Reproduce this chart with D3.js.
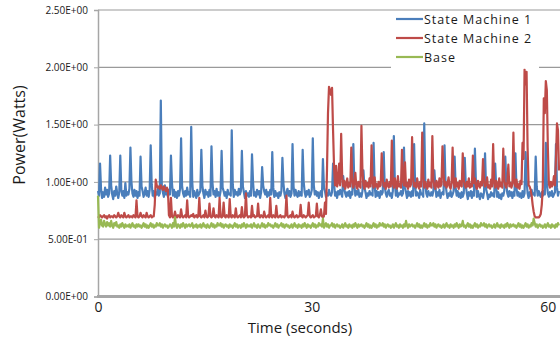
<!DOCTYPE html>
<html>
<head>
<meta charset="utf-8">
<script src="https://cdn.jsdelivr.net/npm/d3@7"></script>
<style>
  body { margin: 0; background: #fff; }
  svg { display: block; font-family: "Open Sans", sans-serif; }
</style>
</head>
<body>
<svg id="chart" width="560" height="341"></svg>
<script>
'use strict'

/****** DATA ******/

const SERIES_NAMES = ['State Machine 1', 'State Machine 2', 'Base']
const SERIES_COLORS = ['#4a7ebb', '#be4b48', '#98b954']

const sm1 = [
  0.92, 0.88, 1.16, 0.94, 0.86, 0.91, 0.87, 0.95, 0.89, 0.93,
  0.87, 0.90, 1.23, 0.97, 0.89, 0.85, 0.92, 0.88, 0.96, 0.90,
  0.86, 0.91, 1.23, 0.93, 0.88, 0.92, 0.86, 0.99, 0.88, 0.91,
  0.89, 0.94, 1.30, 1.00, 0.90, 0.87, 0.93, 0.88, 0.92, 0.86,
  0.91, 0.88, 1.22, 0.96, 0.92, 0.87, 0.90, 0.95, 0.88, 0.92,
  0.87, 0.93, 1.32, 0.98, 0.88, 0.92, 0.86, 0.91, 0.89, 0.94,
  0.88, 0.90, 1.71, 0.95, 0.91, 0.87, 0.97, 0.89, 0.92, 0.87,
  0.93, 0.89, 1.23, 0.99, 0.88, 0.93, 0.87, 0.91, 0.86, 0.92,
  0.88, 0.94, 1.38, 0.96, 0.90, 0.87, 0.92, 0.88, 0.95, 0.89,
  0.91, 0.87, 1.48, 1.00, 0.87, 0.92, 0.89, 0.86, 0.93, 0.88,
  0.90, 0.92, 1.28, 0.97, 0.90, 0.86, 0.93, 0.89, 0.91, 0.87,
  0.93, 0.88, 1.31, 0.99, 0.89, 0.92, 0.87, 0.94, 0.88, 0.91,
  0.87, 0.92, 1.27, 0.95, 0.92, 0.88, 0.91, 0.86, 0.93, 0.89,
  0.90, 0.88, 1.45, 0.98, 0.87, 0.93, 0.89, 0.91, 0.88, 0.94,
  0.89, 0.92, 1.27, 0.96, 0.91, 0.86, 0.92, 0.88, 0.90, 0.87,
  0.92, 0.88, 1.24, 1.00, 0.88, 0.91, 0.87, 0.93, 0.89, 0.92,
  0.86, 0.91, 1.13, 0.97, 0.92, 0.89, 0.93, 0.87, 0.91, 0.88,
  0.93, 0.89, 1.26, 0.95, 0.87, 0.92, 0.88, 0.90, 0.86, 0.91,
  0.88, 0.92, 1.21, 0.99, 0.90, 0.86, 0.91, 0.94, 0.88, 0.92,
  0.87, 0.90, 1.33, 0.96, 0.88, 0.93, 0.89, 0.87, 0.92, 0.88,
  0.91, 0.88, 1.28, 1.00, 0.91, 0.87, 0.92, 0.89, 0.93, 0.87,
  0.89, 0.93, 1.38, 0.97, 0.89, 0.92, 0.88, 0.91, 0.86, 0.90,
  0.92, 0.87, 1.20, 0.95, 0.92, 0.87, 0.90, 0.88, 0.93, 0.89,
  0.88, 0.91, 1.16, 0.98, 0.88, 0.91, 0.86, 0.92, 0.89, 0.93,
  0.90, 0.87, 1.05, 0.94, 0.90, 0.87, 0.91, 0.88, 0.92, 0.86,
  0.91, 0.89, 1.33, 0.97, 0.88, 0.92, 0.89, 0.93, 0.87, 0.90,
  0.87, 0.92, 1.10, 0.95, 0.91, 0.86, 0.90, 0.88, 0.92, 0.89,
  0.90, 0.88, 1.34, 0.98, 0.87, 0.92, 0.88, 0.91, 0.86, 0.92,
  0.89, 0.91, 1.26, 0.96, 0.90, 0.87, 0.91, 0.93, 0.88, 0.90,
  0.86, 0.92, 1.40, 0.99, 0.88, 0.93, 0.87, 0.90, 0.89, 0.92,
  0.88, 0.90, 1.30, 0.95, 0.91, 0.86, 0.92, 0.88, 0.91, 0.87,
  0.92, 0.88, 1.33, 0.97, 0.88, 0.91, 0.89, 0.86, 0.93, 0.89,
  0.90, 0.87, 1.51, 1.00, 0.90, 0.87, 0.92, 0.89, 0.88, 0.91,
  0.88, 0.92, 1.10, 0.96, 0.87, 0.91, 0.88, 0.93, 0.86, 0.90,
  0.91, 0.89, 1.32, 0.98, 0.91, 0.86, 0.90, 0.88, 0.92, 0.87,
  0.89, 0.92, 1.22, 0.95, 0.88, 0.92, 0.87, 0.90, 0.86, 0.91,
  0.87, 0.90, 1.21, 0.97, 0.90, 0.85, 0.91, 0.88, 0.92, 0.86,
  0.91, 0.88, 1.29, 0.99, 0.87, 0.92, 0.88, 0.85, 0.90, 0.89,
  0.86, 0.91, 1.25, 0.94, 0.90, 0.85, 0.89, 0.87, 0.91, 0.88,
  0.90, 0.87, 1.16, 0.96, 0.87, 0.91, 0.86, 0.89, 0.85, 0.90,
  0.88, 0.92, 1.22, 0.98, 0.90, 0.87, 0.92, 0.88, 0.91, 0.86,
  0.91, 0.88, 1.25, 0.95, 0.88, 0.91, 0.87, 0.90, 0.86, 0.92,
  0.87, 0.90, 1.26, 1.02, 0.90, 0.86, 0.91, 0.88, 0.93, 0.89,
  0.90, 0.88, 1.22, 0.96, 0.88, 0.92, 0.89, 0.87, 0.91, 0.88,
  0.92, 0.89, 1.34, 0.98, 0.90, 0.87, 0.91, 0.88, 0.92, 0.87,
  0.89, 0.91, 1.33, 0.95, 0.88, 0.92
]

const sm2 = [
  0.70, 0.69, 0.71, 0.70, 0.69, 0.70, 0.71, 0.69, 0.70, 0.68,
  0.70, 0.71, 0.69, 0.70, 0.70, 0.69, 0.71, 0.70, 0.69, 0.70,
  0.73, 0.70, 0.69, 0.71, 0.70, 0.69, 0.73, 0.70, 0.69, 0.70,
  0.71, 0.69, 0.70, 0.70, 0.69, 0.71, 0.70, 0.69, 0.84, 0.70,
  0.69, 0.70, 0.73, 0.70, 0.69, 0.71, 0.70, 0.69, 0.73, 0.70,
  0.69, 0.70, 0.71, 0.69, 0.70, 0.70, 0.80, 1.02, 0.97, 0.95,
  0.96, 0.94, 0.97, 0.95, 0.93, 0.96, 0.94, 0.92, 0.95, 0.93,
  0.71, 0.69, 0.86, 0.70, 0.69, 0.70, 0.74, 0.70, 0.69, 0.71,
  0.70, 0.69, 0.76, 0.70, 0.69, 0.70, 0.71, 0.69, 0.84, 0.70,
  0.69, 0.70, 0.71, 0.70, 0.72, 0.69, 0.70, 0.71, 0.69, 0.70,
  0.86, 0.70, 0.69, 0.70, 0.71, 0.69, 0.75, 0.70, 0.69, 0.70,
  0.81, 0.70, 0.69, 0.70, 0.77, 0.70, 0.69, 0.71, 0.70, 0.69,
  0.86, 0.70, 0.69, 0.70, 0.82, 0.70, 0.69, 0.71, 0.70, 0.69,
  0.85, 0.70, 0.69, 0.71, 0.70, 0.69, 0.77, 0.70, 0.69, 0.70,
  0.71, 0.69, 0.78, 0.70, 0.69, 0.70, 0.90, 0.71, 0.69, 0.70,
  0.70, 0.69, 0.79, 0.70, 0.71, 0.69, 0.70, 0.70, 0.81, 0.70,
  0.69, 0.71, 0.70, 0.69, 0.74, 0.70, 0.69, 0.70, 0.71, 0.69,
  0.86, 0.70, 0.69, 0.71, 0.70, 0.69, 0.79, 0.70, 0.69, 0.70,
  0.71, 0.69, 0.70, 0.70, 0.69, 0.71, 0.88, 0.70, 0.69, 0.70,
  0.71, 0.69, 0.74, 0.70, 0.69, 0.70, 0.71, 0.69, 0.70, 0.70,
  0.80, 0.70, 0.69, 0.71, 0.70, 0.69, 0.70, 0.71, 0.82, 0.70,
  0.69, 0.70, 0.71, 0.69, 0.70, 0.70, 0.81, 0.70, 0.69, 0.71,
  0.76, 0.70, 0.69, 0.70, 0.82, 0.72, 1.10, 1.60, 1.83, 1.80,
  1.76, 1.82, 1.45, 1.12, 0.97, 1.14, 0.96, 1.00, 1.16, 0.97,
  1.42, 1.05, 0.96, 1.01, 0.94, 0.98, 1.03, 0.95, 0.99, 0.96,
  1.30, 1.02, 0.95, 0.99, 1.08, 0.96, 0.94, 1.00, 0.97, 0.95,
  1.49, 1.10, 0.97, 0.94, 1.01, 0.96, 0.99, 0.95, 1.03, 0.96,
  1.32, 1.00, 0.95, 1.04, 0.96, 0.98, 0.94, 1.00, 0.96, 0.97,
  1.25, 1.03, 0.96, 0.99, 0.94, 1.02, 0.97, 0.95, 1.00, 0.96,
  1.36, 0.99, 0.95, 1.03, 0.97, 0.94, 1.05, 0.96, 0.98, 0.95,
  1.28, 1.01, 0.97, 1.17, 0.96, 0.99, 0.94, 1.02, 0.96, 0.98,
  1.39, 1.04, 0.96, 0.99, 0.95, 1.03, 0.97, 0.94, 1.00, 0.96,
  1.43, 1.06, 0.95, 1.00, 0.97, 0.94, 1.02, 0.96, 0.99, 0.95,
  1.40, 1.02, 0.96, 0.94, 1.01, 0.97, 0.95, 1.03, 0.96, 0.98,
  1.31, 1.07, 0.97, 1.00, 0.95, 0.98, 1.04, 0.96, 0.94, 0.99,
  1.30, 1.00, 0.95, 1.03, 0.96, 0.99, 0.94, 1.01, 0.97, 0.96,
  1.25, 1.02, 0.97, 0.95, 1.00, 0.96, 1.03, 0.95, 0.98, 0.96,
  1.23, 0.99, 1.03, 0.96, 0.94, 1.01, 0.97, 0.95, 1.00, 0.97,
  1.20, 1.01, 0.96, 0.98, 1.04, 0.95, 0.97, 0.94, 1.02, 0.96,
  1.33, 1.00, 0.95, 1.01, 0.97, 0.94, 1.03, 0.96, 0.99, 0.95,
  1.29, 1.02, 0.97, 0.95, 1.00, 1.15, 0.96, 0.99, 0.95, 0.98,
  1.43, 1.00, 0.96, 1.02, 0.95, 0.98, 0.94, 1.01, 0.98, 1.34,
  1.20, 1.98, 1.85, 1.96, 1.30, 0.97, 0.96, 0.93, 0.88, 0.80,
  0.74, 0.70, 0.69, 0.69, 0.69, 0.69, 0.70, 0.72, 0.80, 0.95,
  1.73, 1.60, 1.88, 1.80, 1.30, 0.98, 0.95, 1.00, 0.96, 0.98,
  1.05, 0.97, 1.20, 1.51, 1.45, 1.10
]

const base = [
  0.88, 0.60, 0.64, 0.67, 0.62, 0.61, 0.66, 0.63, 0.61, 0.65,
  0.62, 0.64, 0.61, 0.66, 0.62, 0.60, 0.64, 0.62, 0.65, 0.61,
  0.62, 0.60, 0.63, 0.61, 0.64, 0.62, 0.60, 0.63, 0.61, 0.62,
  0.61, 0.63, 0.60, 0.62, 0.64, 0.61, 0.62, 0.60, 0.63, 0.61,
  0.63, 0.61, 0.62, 0.60, 0.62, 0.64, 0.61, 0.63, 0.60, 0.62,
  0.60, 0.62, 0.64, 0.61, 0.63, 0.60, 0.62, 0.61, 0.64, 0.62,
  0.62, 0.64, 0.61, 0.63, 0.60, 0.62, 0.63, 0.61, 0.62, 0.60,
  0.61, 0.63, 0.62, 0.60, 0.64, 0.61, 0.69, 0.62, 0.60, 0.63,
  0.62, 0.60, 0.63, 0.61, 0.64, 0.62, 0.60, 0.63, 0.61, 0.62,
  0.63, 0.61, 0.62, 0.64, 0.60, 0.62, 0.61, 0.63, 0.60, 0.62,
  0.61, 0.63, 0.60, 0.62, 0.64, 0.61, 0.62, 0.60, 0.63, 0.61,
  0.60, 0.62, 0.64, 0.61, 0.63, 0.60, 0.62, 0.61, 0.64, 0.62,
  0.62, 0.64, 0.61, 0.63, 0.60, 0.62, 0.63, 0.61, 0.62, 0.60,
  0.63, 0.61, 0.62, 0.60, 0.62, 0.64, 0.61, 0.63, 0.60, 0.62,
  0.62, 0.60, 0.63, 0.61, 0.64, 0.62, 0.60, 0.63, 0.61, 0.62,
  0.61, 0.63, 0.60, 0.62, 0.64, 0.61, 0.62, 0.60, 0.63, 0.61,
  0.60, 0.62, 0.64, 0.61, 0.63, 0.60, 0.62, 0.61, 0.64, 0.62,
  0.63, 0.61, 0.62, 0.60, 0.62, 0.64, 0.61, 0.63, 0.60, 0.62,
  0.62, 0.64, 0.61, 0.63, 0.60, 0.62, 0.63, 0.61, 0.62, 0.60,
  0.61, 0.63, 0.60, 0.62, 0.64, 0.61, 0.62, 0.60, 0.63, 0.61,
  0.62, 0.60, 0.63, 0.61, 0.64, 0.62, 0.60, 0.63, 0.61, 0.62,
  0.60, 0.62, 0.64, 0.61, 0.63, 0.60, 0.62, 0.61, 0.64, 0.62,
  0.63, 0.61, 0.68, 0.60, 0.62, 0.64, 0.61, 0.63, 0.60, 0.62,
  0.62, 0.64, 0.61, 0.63, 0.60, 0.62, 0.63, 0.61, 0.62, 0.60,
  0.61, 0.63, 0.60, 0.62, 0.64, 0.61, 0.62, 0.60, 0.63, 0.61,
  0.62, 0.60, 0.63, 0.61, 0.64, 0.62, 0.60, 0.63, 0.61, 0.62,
  0.63, 0.61, 0.62, 0.60, 0.62, 0.64, 0.61, 0.63, 0.60, 0.62,
  0.60, 0.62, 0.64, 0.61, 0.63, 0.60, 0.62, 0.61, 0.64, 0.62,
  0.62, 0.64, 0.61, 0.63, 0.60, 0.62, 0.63, 0.61, 0.62, 0.60,
  0.61, 0.63, 0.60, 0.62, 0.64, 0.61, 0.62, 0.60, 0.63, 0.61,
  0.62, 0.60, 0.63, 0.61, 0.66, 0.62, 0.60, 0.63, 0.61, 0.62,
  0.63, 0.61, 0.62, 0.60, 0.62, 0.64, 0.61, 0.63, 0.60, 0.62,
  0.60, 0.62, 0.64, 0.61, 0.63, 0.60, 0.62, 0.61, 0.64, 0.62,
  0.62, 0.64, 0.61, 0.63, 0.60, 0.62, 0.63, 0.61, 0.62, 0.60,
  0.61, 0.63, 0.60, 0.62, 0.64, 0.61, 0.62, 0.60, 0.63, 0.61,
  0.62, 0.60, 0.63, 0.61, 0.64, 0.62, 0.60, 0.63, 0.61, 0.62,
  0.66, 0.61, 0.62, 0.60, 0.62, 0.64, 0.61, 0.63, 0.60, 0.62,
  0.60, 0.62, 0.64, 0.61, 0.63, 0.60, 0.62, 0.61, 0.64, 0.62,
  0.62, 0.64, 0.61, 0.63, 0.60, 0.62, 0.63, 0.61, 0.62, 0.60,
  0.61, 0.63, 0.60, 0.62, 0.64, 0.61, 0.62, 0.60, 0.63, 0.61,
  0.62, 0.60, 0.63, 0.61, 0.64, 0.62, 0.60, 0.63, 0.61, 0.62,
  0.63, 0.61, 0.62, 0.60, 0.62, 0.64, 0.61, 0.63, 0.60, 0.62,
  0.60, 0.62, 0.64, 0.61, 0.63, 0.60, 0.62, 0.61, 0.64, 0.62,
  0.68, 0.64, 0.61, 0.63, 0.60, 0.62, 0.63, 0.61, 0.62, 0.60,
  0.61, 0.63, 0.60, 0.62, 0.64, 0.61, 0.62, 0.60, 0.63, 0.61,
  0.62, 0.60, 0.63, 0.61, 0.64, 0.62
]

// axis ticks
const Y_TICKS = [0, 0.5, 1, 1.5, 2, 2.5]
const Y_TICK_LABELS = ['0.00E+00', '5.00E-01', '1.00E+00', '1.50E+00', '2.00E+00', '2.50E+00']
const X_TICK_IDX = [0, 211, 444] // sample index where each label sits
const X_TICK_LABELS = ['0', '30', '60']


/****** CHART ******/

const svg = d3.select('#chart')
const N = sm1.length

const x = d3.scaleLinear().domain([0, N - 1]).range([98, 559])
const y = d3.scaleLinear().domain([0, 2.5]).range([296.5, 10])

// gridlines
svg.append('g')
  .selectAll('line')
  .data(Y_TICKS.filter(d => d > 0))
  .join('line')
    .attr('x1', x(0)).attr('x2', 560)
    .attr('y1', d => y(d)).attr('y2', d => y(d))
    .attr('stroke', '#9a9a9a')
    .attr('stroke-width', 1.2)

// y axis
const yAxis = svg.append('g')
  .attr('transform', `translate(${x(0)},0)`)
  .call(d3.axisLeft(y).tickValues(Y_TICKS).tickSize(4).tickPadding(6)
    .tickFormat((d, i) => Y_TICK_LABELS[i]))
yAxis.select('.domain').attr('stroke', '#a6a6a6').attr('stroke-width', 1.5)
yAxis.selectAll('.tick line').attr('stroke', '#a6a6a6')
yAxis.selectAll('.tick text')
  .attr('fill', '#1a1a1a')
  .style('font-size', '10px')
  .style('font-family', '"Open Sans", sans-serif')

// series lines (blue first, red over it, green on top)
const line = d3.line()
  .x((d, i) => x(i))
  .y(d => y(d))

svg.append('g')
  .selectAll('path')
  .data([sm1, sm2, base])
  .join('path')
    .attr('fill', 'none')
    .attr('stroke', (d, i) => SERIES_COLORS[i])
    .attr('stroke-width', 2.2)
    .attr('stroke-linejoin', 'round')
    .attr('d', line)

// x axis: thick gray baseline
const xAxis = svg.append('g')
  .attr('transform', `translate(0,${y(0)})`)
  .call(d3.axisBottom(x).tickValues(X_TICK_IDX).tickSize(0).tickPadding(6)
    .tickFormat((d, i) => X_TICK_LABELS[i]))
xAxis.select('.domain').attr('stroke', '#a6a6a6').attr('stroke-width', 3)
  .attr('d', `M${x(0) - 1},0H560`)
xAxis.selectAll('.tick text')
  .attr('fill', '#1a1a1a')
  .style('font-size', '14px')
  .style('font-family', '"Open Sans", sans-serif')

// axis titles
svg.append('text')
  .attr('transform', 'translate(25,135) rotate(-90)')
  .attr('text-anchor', 'middle')
  .attr('fill', '#1a1a1a')
  .style('font-size', '16px')
  .text('Power(Watts)')

svg.append('text')
  .attr('x', 300).attr('y', 333)
  .attr('text-anchor', 'middle')
  .attr('fill', '#1a1a1a')
  .style('font-size', '15px')
  .text('Time (seconds)')

// legend
const legend = svg.append('g')
legend.append('rect')
  .attr('x', 391).attr('y', 11)
  .attr('width', 148).attr('height', 57.5)
  .attr('fill', '#fff')

const items = legend.selectAll('g')
  .data(SERIES_NAMES)
  .join('g')
    .attr('transform', (d, i) => `translate(396,${19 + i * 19})`)

items.append('line')
  .attr('x1', 0).attr('x2', 27)
  .attr('stroke', (d, i) => SERIES_COLORS[i])
  .attr('stroke-width', 2.2)

items.append('text')
  .attr('x', 28).attr('y', 4.5)
  .attr('fill', '#1a1a1a')
  .style('font-size', '12.5px')
  .style('letter-spacing', '1px')
  .text(d => d)
</script>
</body>
</html>
